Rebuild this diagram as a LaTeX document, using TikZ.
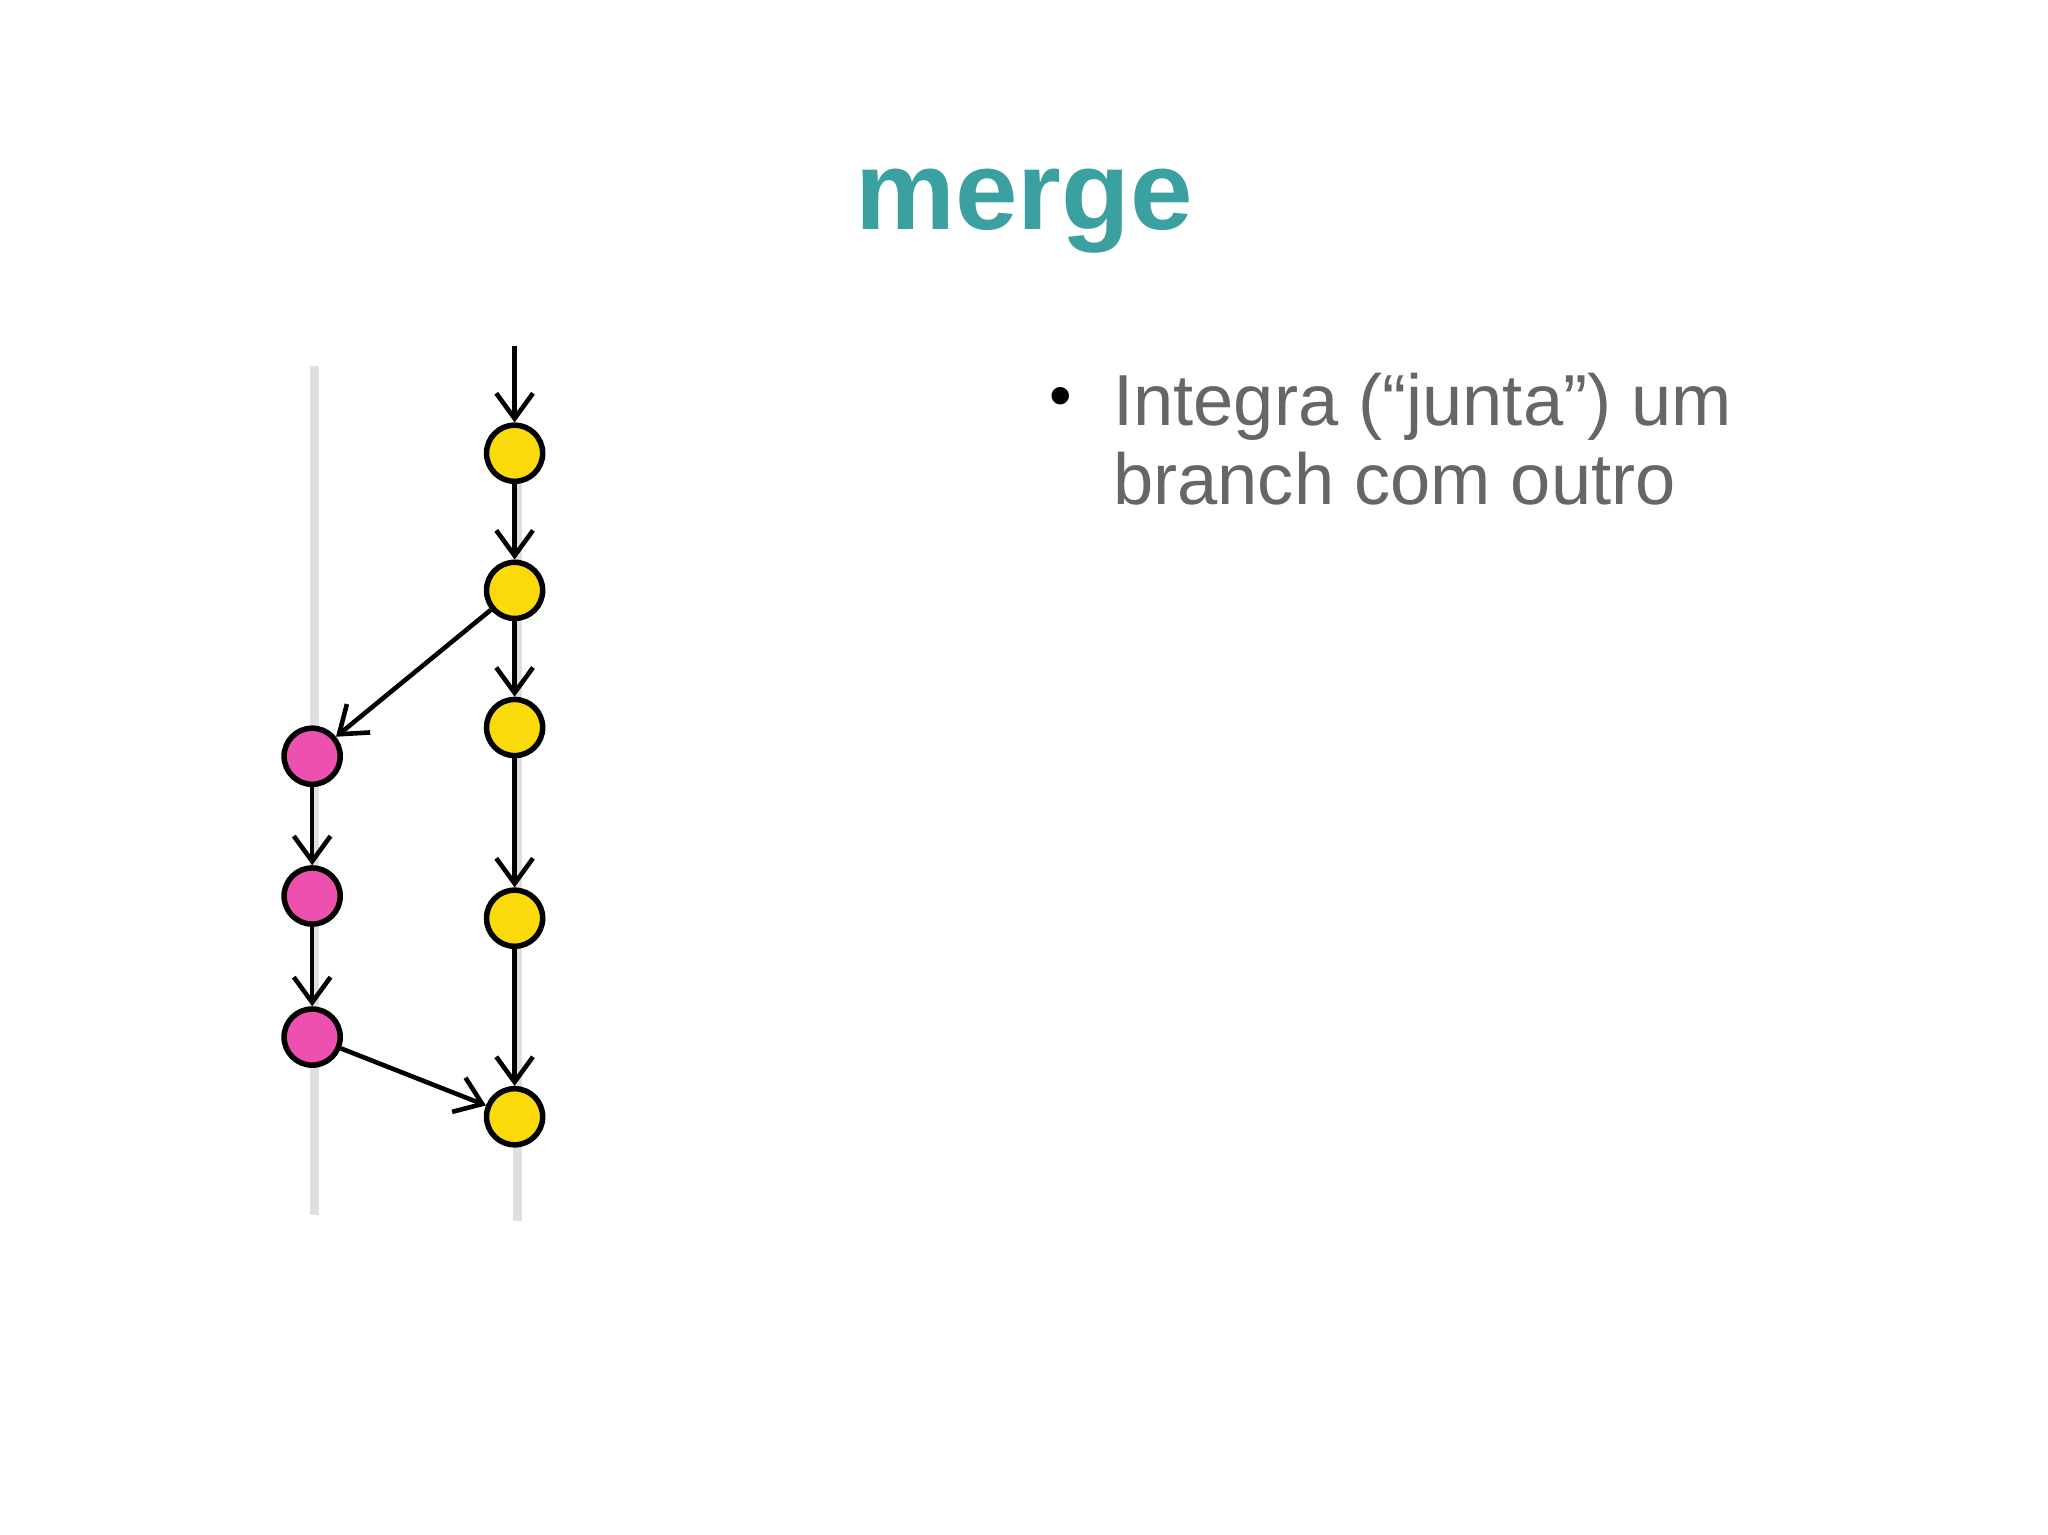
\documentclass[tikz,border=0pt]{standalone}
\usepackage{fontspec}
\setmainfont{Liberation Sans}
\usetikzlibrary{arrows.meta}
\definecolor{teal1}{RGB}{58,160,160}
\definecolor{txt}{RGB}{102,102,102}
\definecolor{yel}{RGB}{250,218,10}
\definecolor{pnk}{RGB}{238,80,175}
\begin{document}
\begin{tikzpicture}[x=0.02cm,y=-0.02cm,
  commit/.style={circle,draw=black,line width=2.4pt,minimum size=0.86cm,inner sep=0pt},
  ycommit/.style={commit,fill=yel},
  pcommit/.style={commit,fill=pnk},
  arr/.style={-{Straight Barb[length=11pt,width=16pt,line width=2pt]},line width=2pt,black},
  rail/.style={line width=4pt,black!12},
  btxt/.style={anchor=base west,text=txt,font=\fontsize{31.5}{40}\selectfont,inner sep=0pt}]
\useasboundingbox (0,0) rectangle (1568,1175.2);
\fill[white] (0,0) rectangle (1568,1175.2);
\node[font=\bfseries,text=teal1,scale=2.36,anchor=base,inner sep=0pt] (title) at (784,176) {\huge merge};
\draw[rail] (241,280) -- (241,930);
\draw[rail] (396,330) -- (396,935);
\node[ycommit] (y1) at (394,347) {};
\node[ycommit] (y2) at (394,452) {};
\node[ycommit] (y3) at (394,557) {};
\node[ycommit] (y4) at (394,703) {};
\node[ycommit] (y5) at (394,855) {};
\node[pcommit] (p1) at (239,579) {};
\node[pcommit] (p2) at (239,686) {};
\node[pcommit] (p3) at (239,794) {};
\coordinate (top) at (394,265);
\draw[arr] (top) -- (y1);
\draw[arr] (y1) -- (y2);
\draw[arr] (y2) -- (y3);
\draw[arr] (y3) -- (y4);
\draw[arr] (y4) -- (y5);
\draw[arr] (y2) -- (p1);
\draw[arr] (p1) -- (p2);
\draw[arr] (p2) -- (p3);
\draw[arr] (p3) -- (y5);
\node[btxt] (b1) at (852,326) {Integra (“junta”) um};
\node[btxt] (b2) at (852,386) {branch com outro};
\node[font=\fontsize{28}{30}\selectfont,inner sep=0pt] (dot) at (812,308) {•};
\end{tikzpicture}
\end{document}
